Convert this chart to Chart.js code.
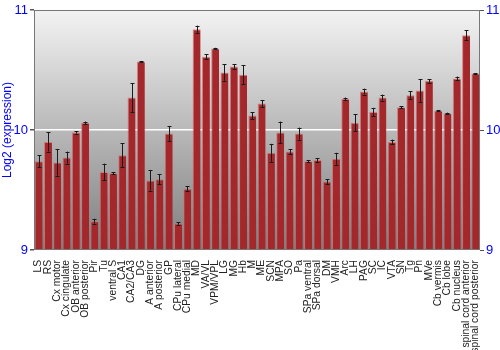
<!DOCTYPE html>
<html>
<head>
<meta charset="utf-8">
<script src="https://cdn.jsdelivr.net/npm/chart.js@4/dist/chart.umd.min.js"></script>
<style>
  body { margin: 0; background: #fff; }
  #wrap { width: 500px; height: 350px; }
</style>
</head>
<body>
<div id="wrap"><canvas id="myChart" width="500" height="350"></canvas></div>
<script>
const regions = ["LS", "RS", "Cx motor", "Cx cingulate", "OB anterior", "OB posterior", "Pir", "Tu",
  "ventral S", "CA1", "CA2/CA3", "DG", "A anterior", "A posterior", "GP", "CPu lateral", "CPu medial",
  "MD", "VA/VL", "VPM/VPL", "LG", "MG", "Hb", "M", "ME", "SCN", "MPA", "SO", "Pa", "SPa ventral",
  "SPa dorsal", "DM", "VMH", "Arc", "LH", "PAG", "SC", "IC", "VTA", "SN", "Tg", "Pn", "MVe",
  "Cb vermis", "Cb lobe", "Cb nucleus", "spinal cord anterior", "spinal cord posterior"];

const expression = [9.74, 9.90, 9.73, 9.77, 9.98, 10.06, 9.24, 9.65,
  9.64, 9.79, 10.27, 10.57, 9.58, 9.59, 9.97, 9.22, 9.51,
  10.84, 10.61, 10.68, 10.48, 10.53, 10.46, 10.12, 10.22, 9.81, 9.98, 9.82, 9.97, 9.74,
  9.75, 9.57, 9.76, 10.26, 10.06, 10.32, 10.15, 10.27, 9.90, 10.19, 10.29, 10.33, 10.41,
  10.16, 10.14, 10.43, 10.79, 10.47];

const errors = [0.05, 0.08, 0.11, 0.05, 0.01, 0.01, 0.02, 0.07,
  0.01, 0.10, 0.12, 0.005, 0.085, 0.04, 0.06, 0.01, 0.02,
  0.03, 0.02, 0.005, 0.07, 0.02, 0.08, 0.03, 0.03, 0.075, 0.09, 0.02, 0.05, 0.01,
  0.015, 0.02, 0.05, 0.01, 0.07, 0.025, 0.035, 0.025, 0.02, 0.01, 0.035, 0.095, 0.015,
  0.005, 0.005, 0.015, 0.04, 0.005];

const yTicks = [9, 10, 11];

// grey gradient behind the bars + frame
const plotBackground = {
  id: 'plotBackground',
  beforeDraw(chart) {
    const { ctx, chartArea: a } = chart;
    const g = ctx.createLinearGradient(0, a.top, 0, a.bottom);
    g.addColorStop(0, '#f3f3f3');
    g.addColorStop(1, '#7e7e7e');
    ctx.save();
    ctx.fillStyle = g;
    ctx.fillRect(a.left, a.top, a.right - a.left, a.bottom - a.top);
    ctx.restore();
  },
  afterDraw(chart) {
    const { ctx, chartArea: a } = chart;
    ctx.save();
    ctx.strokeStyle = '#777';
    ctx.lineWidth = 1;
    ctx.strokeRect(a.left + 0.5, a.top + 0.5, a.right - a.left - 1, a.bottom - a.top - 1);
    ctx.restore();
  }
};

// error bars drawn from the data through the y scale
const errorBars = {
  id: 'errorBars',
  afterDatasetsDraw(chart) {
    const { ctx } = chart;
    const y = chart.scales.y;
    const meta = chart.getDatasetMeta(0);
    ctx.save();
    ctx.strokeStyle = '#1a1a1a';
    ctx.lineWidth = 1;
    meta.data.forEach((bar, i) => {
      const x = Math.round(bar.x) + 0.5;
      const top = y.getPixelForValue(expression[i] + errors[i]);
      const bot = y.getPixelForValue(expression[i] - errors[i]);
      ctx.beginPath();
      ctx.moveTo(x, top);
      ctx.lineTo(x, bot);
      ctx.moveTo(x - 2, Math.round(top) + 0.5);
      ctx.lineTo(x + 2, Math.round(top) + 0.5);
      ctx.moveTo(x - 2, Math.round(bot) + 0.5);
      ctx.lineTo(x + 2, Math.round(bot) + 0.5);
      ctx.stroke();
    });
    ctx.restore();
  }
};

const yTickOpts = {
  color: '#0000ff',
  font: { family: 'Liberation Sans', size: 13 },
  padding: 2,
  callback: v => yTicks.includes(v) ? String(v) : ''
};

const myChart = new Chart(document.getElementById('myChart'), {
  type: 'bar',
  data: {
    labels: regions,
    datasets: [{
      label: 'Log2 (expression)',
      data: expression,
      backgroundColor: '#a4282b',
      borderColor: 'rgba(215,110,110,0.8)',
      borderWidth: { left: 1, right: 0, top: 1, bottom: 0 },
      borderSkipped: false,
      barPercentage: 0.86,
      categoryPercentage: 1
    }]
  },
  options: {
    responsive: false,
    animation: false,
    layout: { padding: { top: 10, right: 0, left: 0, bottom: 0 } },
    plugins: { legend: { display: false }, tooltip: { enabled: false } },
    scales: {
      x: {
        grid: { display: false },
        border: { display: false },
        ticks: {
          color: '#222',
          font: { family: 'Liberation Sans', size: 10.3 },
          maxRotation: 90,
          minRotation: 90,
          autoSkip: false,
          padding: 2
        },
        afterFit: s => { s.height = 100; }
      },
      y: {
        position: 'left',
        min: 9,
        max: 11,
        ticks: { ...yTickOpts, stepSize: 1 },
        grid: {
          color: c => c.tick && c.tick.value === 10 ? '#ffffff' : 'rgba(0,0,0,0)',
          tickColor: '#555',
          tickLength: 4,
          lineWidth: 1.5
        },
        border: { display: false },
        title: {
          display: true,
          text: 'Log2 (expression)',
          color: '#0000ff',
          font: { family: 'Liberation Sans', size: 12 },
          padding: 0
        },
        afterFit: s => { s.width = 34; }
      },
      y2: {
        position: 'right',
        min: 9,
        max: 11,
        ticks: { ...yTickOpts, stepSize: 1 },
        grid: { drawOnChartArea: false, tickColor: '#555', tickLength: 4 },
        border: { display: false },
        afterFit: s => { s.width = 20; }
      }
    }
  },
  plugins: [plotBackground, errorBars]
});
</script>
</body>
</html>
